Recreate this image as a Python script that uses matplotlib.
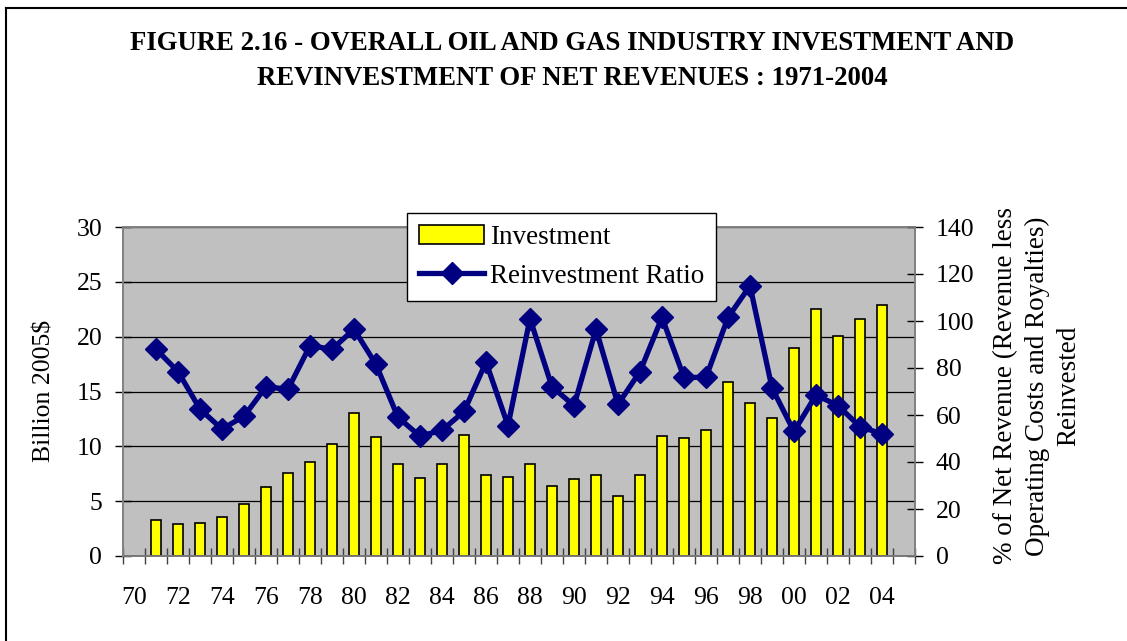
import numpy as np
import matplotlib
matplotlib.use("Agg")
from matplotlib import pyplot as plt
from matplotlib.lines import Line2D

plt.rcParams['font.family'] = ['Liberation Serif', 'DejaVu Serif']

# Category labels on the x axis (one slot per year, 1970 .. 2005)
YEARS = ["70", "71", "72", "73", "74", "75", "76", "77", "78", "79",
         "80", "81", "82", "83", "84", "85", "86", "87", "88", "89",
         "90", "91", "92", "93", "94", "95", "96", "97", "98", "99",
         "00", "01", "02", "03", "04", "05"]
# Data runs from 1971 to 2004
DATA_YEARS = YEARS[1:35]
# Investment, billion 2005$
INVESTMENT = [3.25, 2.95, 3.05, 3.55, 4.75, 6.3, 7.55, 8.55, 10.25, 13.05,
              10.85, 8.4, 7.15, 8.35, 11.0, 7.4, 7.2, 8.35, 6.35, 7.0,
              7.4, 5.45, 7.35, 10.95, 10.75, 11.45, 15.9, 13.95, 12.55, 19.0,
              22.55, 20.1, 21.65, 22.9]
# Reinvestment ratio, % of net revenue
RATIO = [88, 78.5, 62.5, 54, 59.5, 72, 71, 89.5, 88, 96.5,
         81.5, 59, 51, 53.5, 61.5, 82.5, 55.5, 101, 72, 64,
         96.5, 64.5, 78.5, 101.5, 76, 76, 101.5, 115, 71.5, 53,
         68.5, 64, 55, 52]

NAVY = "#000080"

def main():
    fig = plt.figure(figsize=(11.27, 6.41), dpi=100)
    ax = fig.add_axes([123 / 1127, 1 - 556 / 641, 792 / 1127, 329 / 641])
    ax2 = ax.twinx()

    # Outer chart frame (only top and left edge visible in the source)
    fig.add_artist(Line2D([6 / 1127, 6 / 1127], [0, 1 - 8 / 641], transform=fig.transFigure, color="black", lw=1.5))
    fig.add_artist(Line2D([6 / 1127, 1], [1 - 8 / 641, 1 - 8 / 641], transform=fig.transFigure, color="black", lw=1.5))

    x = np.array([YEARS.index(y) for y in DATA_YEARS])

    ax.set_facecolor("#c0c0c0")
    ax.set_axisbelow(True)
    bars = ax.bar(x, INVESTMENT, width=0.47, color="#ffff00", edgecolor="black", linewidth=1.2, zorder=2, label="Investment")
    ax.set_ylim(0, 30)
    ax.set_yticks(np.arange(0, 31, 5))
    ax.yaxis.grid(True, color="black", linewidth=0.9)
    ax.set_xlim(-0.5, len(YEARS) - 0.5)

    # Labels at every other category, tick marks between categories
    ax.set_xticks(np.arange(0, len(YEARS), 2))
    ax.set_xticklabels(YEARS[::2])
    ax.set_xticks(np.arange(-0.5, len(YEARS), 1), minor=True)
    ax.tick_params(axis="x", which="major", length=0, pad=22, labelsize=18.5)
    ax.tick_params(axis="x", which="minor", direction="inout", length=12, width=1, color="#404040")
    ax.tick_params(axis="y", direction="inout", length=12, width=1, pad=9, labelsize=18.5)

    line, = ax2.plot(x, RATIO, color=NAVY, linewidth=3.8, marker="D", markersize=11,
                     markerfacecolor=NAVY, markeredgecolor=NAVY, label="Reinvestment Ratio", zorder=3)
    ax2.set_ylim(0, 140)
    ax2.set_yticks(np.arange(0, 141, 20))
    ax2.tick_params(axis="y", direction="inout", length=12, width=1, pad=9, labelsize=18.5)

    for a in (ax, ax2):
        for s in a.spines.values():
            s.set_color("#808080")
            s.set_linewidth(1.2)
    ax.spines["bottom"].set_color("#404040")

    fig.text(45 / 1127, 1 - 391 / 641, "Billion 2005$", rotation=90, ha="center", va="center", fontsize=18.5)
    fig.text(1037 / 1127, 1 - 386 / 641,
             "% of Net Revenue (Revenue less\nOperating Costs and Royalties)\nReinvested",
             rotation=90, ha="center", va="center", multialignment="center", fontsize=19.5, linespacing=1.34)

    fig.text(572 / 1127, 1 - 61 / 641,
             "FIGURE 2.16 - OVERALL OIL AND GAS INDUSTRY INVESTMENT AND\nREVINVESTMENT OF NET REVENUES : 1971-2004",
             ha="center", va="center", fontsize=19.3, fontweight="bold", linespacing=1.48)

    leg = fig.legend([bars, line], ["Investment", "Reinvestment Ratio"], loc="upper left",
                     bbox_to_anchor=(407 / 1127, 1 - 213 / 641), bbox_transform=fig.transFigure,
                     fontsize=19.5, fancybox=False, framealpha=1, edgecolor="black", borderaxespad=0,
                     handlelength=2.4, handletextpad=0.2, labelspacing=0.5, borderpad=0.45)
    leg.get_frame().set_linewidth(1.0)
    leg.set_zorder(10)

    fig.savefig("out.png", dpi=100)

if __name__ == "__main__":
    main()
